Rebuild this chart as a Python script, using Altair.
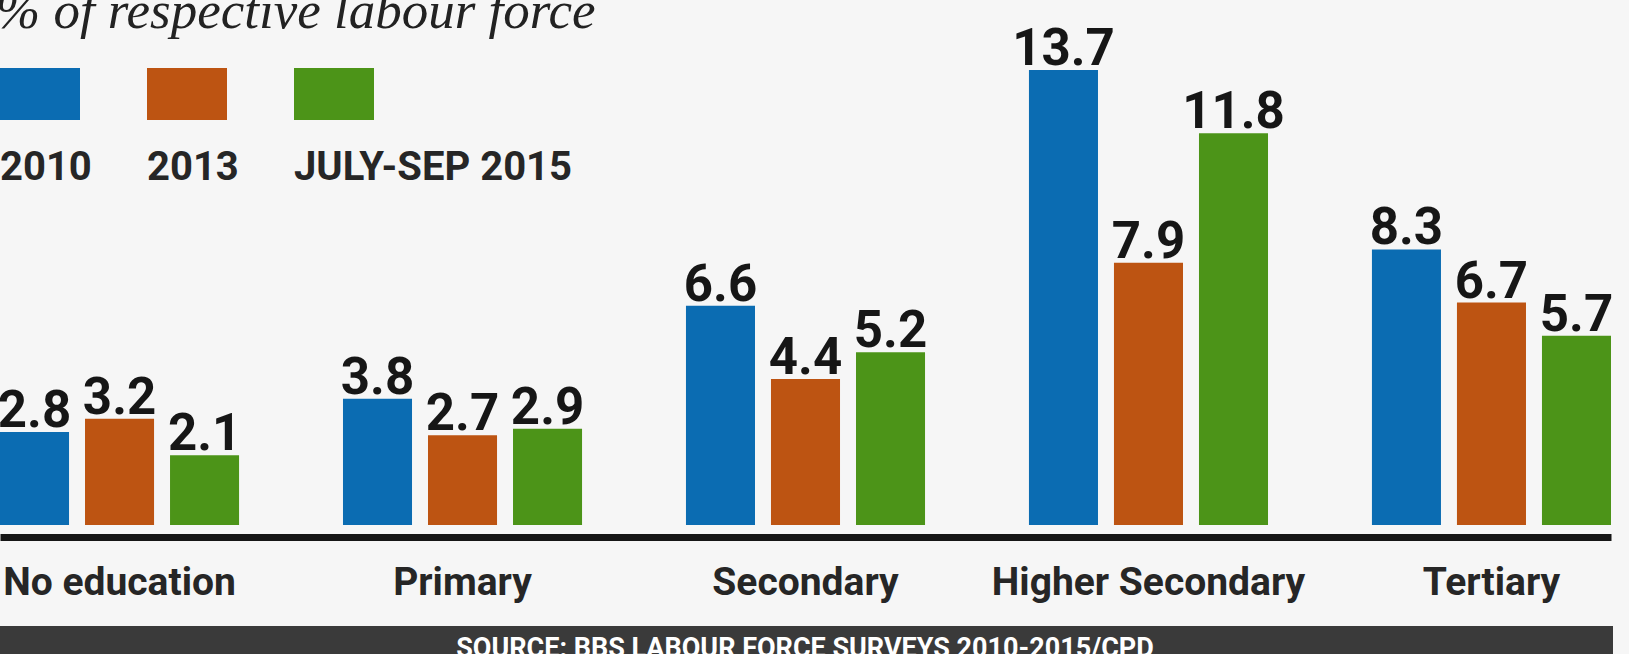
import altair as alt
import pandas as pd

categories = ["No education", "Primary", "Secondary", "Higher Secondary", "Tertiary"]
series = ["2010", "2013", "JULY-SEP 2015"]
v2010 = [2.8, 3.8, 6.6, 13.7, 8.3]
v2013 = [3.2, 2.7, 4.4, 7.9, 6.7]
v2015 = [2.1, 2.9, 5.2, 11.8, 5.7]
title_text = "% of respective labour force"
source_text = "SOURCE: BBS LABOUR FORCE SURVEYS 2010-2015/CPD"

colors = ["#0b6cb2", "#bd5412", "#4c9418"]
NARROW = "Roboto, sans-serif"
TXT = "#262626"

rows = []
for s, vals in zip(series, [v2010, v2013, v2015]):
    for c, v in zip(categories, vals):
        rows.append({"category": c, "series": s, "value": v})
df = pd.DataFrame(rows)

color_enc = alt.Color("series:N", sort=series,
                      scale=alt.Scale(domain=series, range=colors), legend=None)

base = alt.Chart(df).encode(
    x=alt.X("category:N", sort=categories,
            scale=alt.Scale(paddingInner=0.303, paddingOuter=0),
            axis=alt.Axis(title=None, ticks=False, tickSize=0, grid=False,
                          domainWidth=7, domainColor="#161616", offset=12,
                          labelAngle=0, labelFont=NARROW, labelFontWeight="bold",
                          labelFontSize=39, labelColor=TXT, labelPadding=57,
                          labelBaseline="alphabetic", labelLimit=0)),
    xOffset=alt.XOffset("series:N", sort=series,
                        scale=alt.Scale(paddingInner=0.188, paddingOuter=0)),
    y=alt.Y("value:Q", scale=alt.Scale(domain=[0, 15.81], nice=False), axis=None),
)

bars = base.mark_bar().encode(color=color_enc)
labels = base.mark_text(baseline="alphabetic", dy=-5, font=NARROW, fontWeight="bold",
                        fontSize=51).encode(
    text=alt.Text("value:Q", format=".1f"), color=alt.value("#161616"))

legend_df = pd.DataFrame({"series": series})
leg_x = alt.X("series:N", sort=series,
              scale=alt.Scale(type="point", domain=series, range=[40, 334], padding=0),
              axis=None)
leg_sq = alt.Chart(legend_df).mark_point(
    shape="M-1,-0.65L1,-0.65L1,0.65L-1,0.65Z", filled=True, size=6400,
    opacity=1, strokeWidth=0).encode(x=leg_x, y=alt.value(94), color=color_enc)
leg_tx = alt.Chart(legend_df).mark_text(
    align="left", dx=-40, baseline="alphabetic", fontSize=40, font=NARROW,
    fontWeight="bold").encode(x=leg_x, y=alt.value(180), text="series:N",
                              color=alt.value(TXT))

title = alt.Chart(pd.DataFrame({"t": [title_text]})).mark_text(
    align="left", baseline="alphabetic", font="Liberation Serif", fontStyle="italic",
    fontSize=53, color="#222222").encode(x=alt.value(-4), y=alt.value(28), text="t:N")

src_rect = alt.Chart(pd.DataFrame({"a": [0]})).mark_rect(color="#3a3a3a").encode(
    x=alt.value(0), x2=alt.value(1613), y=alt.value(626), y2=alt.value(660))
src_text = alt.Chart(pd.DataFrame({"t": [source_text]})).mark_text(
    align="center", baseline="alphabetic", font=NARROW, fontWeight="bold",
    fontSize=27, color="#ffffff").encode(x=alt.value(805), y=alt.value(657), text="t:N")

chart = alt.layer(bars, labels, leg_sq, leg_tx, title, src_rect, src_text).resolve_scale(
    x="independent"
).properties(
    width=1611, height=525,
    autosize=alt.AutoSizeParams(type="none"),
    padding={"left": 0, "top": 0, "right": 18, "bottom": 129},
    background="#f6f6f6",
).configure_view(stroke=None)

chart.save("out.html", embed_options={"renderer": "svg", "actions": False})
